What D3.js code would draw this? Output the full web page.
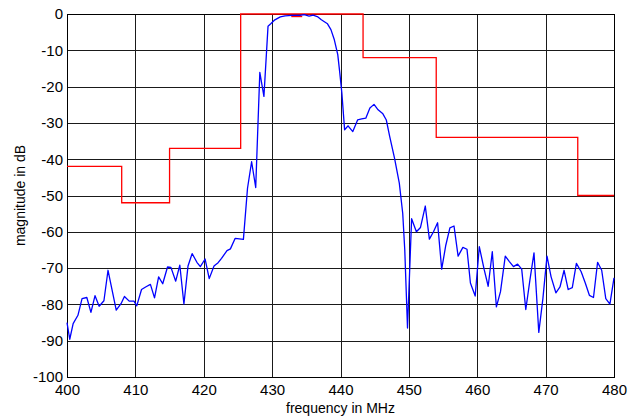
<!DOCTYPE html>
<html>
<head>
<meta charset="utf-8">
<script src="https://cdn.jsdelivr.net/npm/d3@7"></script>
<style>
  body { margin: 0; background: #fff; }
  text { font-family: "Liberation Sans", Arial, sans-serif; }
</style>
</head>
<body>
<svg id="chart" width="638" height="419"></svg>
<script>
// measured response (blue)
var respFreq = [400, 400.4, 400.9, 401.6, 402.2, 402.9, 403.5, 404.1, 404.7, 405.4,
  406.0, 407.2, 407.9, 408.4, 409.1, 409.8, 410.2, 410.9, 411.5, 412.2,
  412.8, 413.4, 414.0, 414.7, 415.2, 415.9, 416.5, 417.1, 417.7, 418.3,
  419.0, 419.5, 420.2, 420.8, 421.5, 422.1, 422.6, 423.4, 423.9, 424.6,
  425.8, 426.4, 427.0, 427.6, 428.2, 428.8, 429.4, 429.8, 430.4, 431.2,
  431.9, 432.9, 434.1, 434.7, 435.4, 436.0, 436.7, 437.2, 437.7, 438.1,
  438.6, 439.1, 439.6, 439.9, 440.2, 440.6, 441.1, 441.8, 442.5, 443.1,
  443.7, 444.3, 444.9, 445.5, 446.2, 446.7, 447.2, 447.9, 448.6, 449.1,
  449.4, 449.8, 450.4, 451.1, 451.7, 452.4, 453.0, 453.6, 454.2, 454.8,
  455.4, 456.0, 456.6, 457.2, 457.9, 458.5, 459.0, 459.7, 460.3, 461.0,
  461.6, 462.2, 462.8, 463.4, 464.1, 464.7, 465.3, 465.9, 466.5, 467.1,
  467.7, 468.3, 469.0, 469.6, 470.2, 470.8, 471.5, 472.1, 472.7, 473.3,
  473.9, 474.5, 475.2, 475.8, 476.4, 477.0, 477.6, 478.2, 478.8, 479.4, 480];
var respDb = [-85, -89.6, -85.3, -83, -78.4, -78.1, -82.2, -77.6, -80.5, -79,
  -70.6, -81.6, -79.8, -77.8, -79.1, -79.1, -80.4, -75.9, -75.2, -74.5,
  -78.2, -72.4, -74.3, -69.7, -69.8, -73.6, -69.2, -79.9, -69.4, -66,
  -68.4, -69.6, -67.5, -72.9, -69.4, -68.5, -67.3, -65.2, -64.7, -61.8,
  -62.1, -48, -40.7, -47.8, -16.1, -22.7, -3.4, -2.7, -1.6, -0.8,
  -0.5, -0.4, -0.4, -0.2, -0.6, -0.3, -0.8, -1.6, -2.2, -2.7,
  -4.3, -7.1, -11.2, -16.3, -21.8, -31.9, -30.8, -32.4, -29.2, -28.9,
  -28.7, -25.9, -24.9, -26.4, -27.5, -29.2, -33.8, -39.7, -46.6, -54.9,
  -65, -86.5, -56.4, -60, -58.8, -52.9, -62, -60, -57.5, -70.3,
  -63.7, -58.9, -58.4, -66.7, -64.3, -64.8, -74.1, -77.7, -64.1, -70.3,
  -75, -65.5, -80.7, -76.5, -66.7, -68.2, -69.6, -68.9, -70.3, -81.4,
  -73.3, -65.8, -87.7, -78.4, -66.7, -72.4, -76.8, -75.2, -70.6, -75.9,
  -75.4, -68.7, -71, -74.1, -77.5, -78.1, -68.4, -70.6, -78.4, -79.9, -72.7];

// spectral mask (red step line)
var maskFreq = [400, 408, 408, 415, 415, 425.4, 425.4, 443.3, 443.3, 454, 454, 474.7, 474.7, 480];
var maskDb = [-42, -42, -52, -52, -37, -37, 0, 0, -12, -12, -34, -34, -50, -50];

// small ripple marker (red)
var rippleFreq = [432.8, 434.4];
var rippleDb = [-0.7, -0.7];

var xTicks = [400, 410, 420, 430, 440, 450, 460, 470, 480];
var yTicks = [0, -10, -20, -30, -40, -50, -60, -70, -80, -90, -100];

var margin = {left: 67, top: 14, right: 24, bottom: 42};
var width = 638 - margin.left - margin.right;
var height = 419 - margin.top - margin.bottom;

var svg = d3.select("#chart");
var g = svg.append("g")
    .attr("transform", "translate(" + margin.left + "," + margin.top + ")");

var x = d3.scaleLinear().domain([400, 480]).range([0, width]);
var y = d3.scaleLinear().domain([-100, 0]).range([height, 0]);

// grid
g.append("g").selectAll("line")
    .data(xTicks)
    .enter()
    .append("line")
    .attr("x1", function(d) { return Math.round(x(d)) + 0.5; })
    .attr("x2", function(d) { return Math.round(x(d)) + 0.5; })
    .attr("y1", 0)
    .attr("y2", height)
    .style("stroke", "#1a1a1a")
    .style("stroke-width", 1);
g.append("g").selectAll("line")
    .data(yTicks)
    .enter()
    .append("line")
    .attr("x1", 0)
    .attr("x2", width)
    .attr("y1", function(d) { return Math.round(y(d)) + 0.5; })
    .attr("y2", function(d) { return Math.round(y(d)) + 0.5; })
    .style("stroke", "#1a1a1a")
    .style("stroke-width", 1);

// frame
g.append("rect")
    .attr("x", 0.5)
    .attr("y", 0.5)
    .attr("width", Math.round(width))
    .attr("height", Math.round(height))
    .style("fill", "none")
    .style("stroke", "#000")
    .style("stroke-width", 1);

// tick labels (plain hyphen like the original)
var plain = function(d) { return String(d); };

var xAxis = d3.axisBottom(x).tickValues(xTicks).tickSize(0).tickPadding(7).tickFormat(plain);
var xg = g.append("g").attr("transform", "translate(0," + height + ")").call(xAxis);
xg.select(".domain").remove();
xg.selectAll("text").style("font-size", "15px").style("fill", "#000")
    .style("font-family", "'Liberation Sans', Arial, sans-serif");

var yAxis = d3.axisLeft(y).tickValues(yTicks).tickSize(0).tickPadding(4).tickFormat(plain);
var yg = g.append("g").call(yAxis);
yg.select(".domain").remove();
yg.selectAll("text").style("font-size", "15px").style("fill", "#000")
    .style("font-family", "'Liberation Sans', Arial, sans-serif");

var line = d3.line()
    .x(function(d) { return x(d[0]); })
    .y(function(d) { return y(d[1]); });

// mask
g.append("path")
    .datum(d3.zip(maskFreq, maskDb))
    .attr("d", line)
    .style("fill", "none")
    .style("stroke", "#ff0000")
    .style("stroke-width", 1.3);
g.append("path")
    .datum(d3.zip(rippleFreq, rippleDb))
    .attr("d", line)
    .style("fill", "none")
    .style("stroke", "#ff0000")
    .style("stroke-width", 1.3);

// response
g.append("path")
    .datum(d3.zip(respFreq, respDb))
    .attr("d", line)
    .style("fill", "none")
    .style("stroke", "#0000ff")
    .style("stroke-width", 1.3)
    .style("stroke-linejoin", "round");

// axis labels
svg.append("text")
    .attr("x", margin.left + width / 2)
    .attr("y", 413)
    .attr("text-anchor", "middle")
    .style("font-size", "14px")
    .text("frequency in MHz");
svg.append("text")
    .attr("transform", "translate(25," + (margin.top + height / 2) + ") rotate(-90)")
    .attr("text-anchor", "middle")
    .style("font-size", "14px")
    .text("magnitude in dB");
</script>
</body>
</html>
